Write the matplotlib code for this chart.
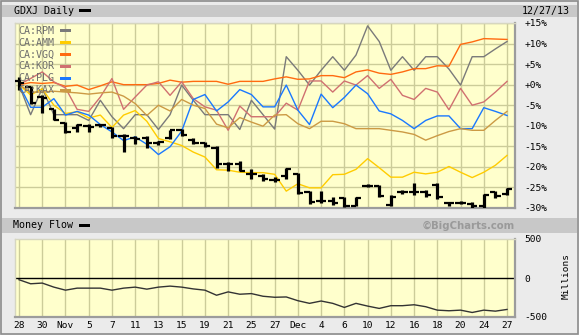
import matplotlib
matplotlib.use('Agg')
import matplotlib.pyplot as plt
from matplotlib.patches import Rectangle
from matplotlib.lines import Line2D

W, H = 579, 335

# trading days 10/28/13 .. 12/27/13, every 2nd one labelled
tick_labels = ['28', '30', 'Nov', '5', '7', '11', '13', '15', '19', '21', '25',
               '27', 'Dec', '4', '6', '10', '12', '16', '18', '20', '24', '27']

# GDXJ daily bars, % change
gdxj_open = [0.8, -0.5, -3.0, -6.0, -9.3, -10.5, -10.1, -9.9, -10.5, -12.5, -13.0,
             -13.0, -14.2, -13.0, -11.1, -13.5, -14.3, -15.4, -19.2, -19.2, -21.8,
             -22.2, -23.2, -22.3, -21.8, -26.2, -28.4, -28.2, -27.5, -29.4, -24.6,
             -24.7, -29.3, -26.2, -26.0, -26.0, -24.5, -28.9, -28.7, -29.0, -29.6,
             -26.1, -26.5]
gdxj_high = [1.9, -0.3, -2.4, -5.8, -9.1, -9.5, -9.6, -9.6, -10.3, -11.9, -12.5,
             -12.5, -13.6, -11.1, -10.9, -12.9, -13.9, -15.0, -18.8, -18.6, -20.6,
             -21.8, -22.5, -20.2, -21.5, -25.9, -25.9, -27.3, -27.3, -27.4, -24.1,
             -24.5, -26.9, -25.6, -23.9, -25.6, -23.9, -28.5, -28.4, -28.5, -26.6,
             -25.8, -25.2]
gdxj_low = [-1.3, -4.6, -7.0, -8.7, -11.7, -11.5, -11.6, -10.3, -12.9, -16.4, -14.4,
            -15.4, -14.6, -13.1, -12.6, -14.5, -15.2, -20.2, -21.0, -21.1, -23.0,
            -23.4, -23.7, -22.9, -26.6, -29.0, -28.7, -29.2, -29.7, -29.6, -25.0,
            -27.3, -29.4, -26.7, -26.9, -27.4, -27.8, -29.4, -29.1, -30.0, -30.0,
            -27.5, -26.9]
gdxj_close = [0.3, -4.4, -3.2, -8.5, -11.5, -9.9, -10.3, -9.9, -12.6, -12.4, -13.2,
              -14.1, -14.0, -11.1, -12.3, -14.2, -15.0, -19.3, -19.3, -20.9, -21.8,
              -22.9, -23.3, -20.6, -26.4, -28.6, -28.2, -28.8, -29.5, -27.6, -24.6,
              -27.1, -27.3, -26.2, -26.1, -26.8, -27.4, -28.9, -28.7, -29.4, -26.8,
              -27.2, -25.4]

# comparison symbols, % change
rpm = [0, -7.3, -0.9, -7.3, -7.3, -7.3, -8.7, -3.8, -7.8, -10.7, -7.3, -7.3, -10.9,
       -7.3, -0.1, -3.8, -7.3, -7.3, -7.3, -10.9, -3.8, -7.3, -10.8, 6.8, 3.5, -0.1,
       3.5, 6.8, 3.5, 7.2, 14.3, 10.5, 3.5, 6.8, 3.5, 6.8, 6.8, 3.8, -0.1, 6.8, 6.8,
       8.7, 10.5]
amm = [0, -2.5, -1.0, -5.0, -7.0, -6.6, -8.1, -7.4, -10.4, -7.4, -6.3, -8.9, -13.1,
       -13.9, -14.8, -16.4, -17.6, -20.7, -20.8, -21.3, -21.4, -21.4, -21.8, -25.9,
       -24.1, -25.1, -25.1, -21.9, -21.8, -20.6, -18.0, -20.2, -22.5, -22.5, -21.3,
       -21.7, -21.3, -19.9, -21.3, -22.6, -21.3, -19.6, -17.2]
vgq = [0, 0.5, 0.3, 0.5, -0.4, -0.1, -1.2, -0.3, 0.7, 0, 0, 0, 0.3, 1.1, 0.6, 0.8,
       0.8, 0.8, 0.1, 0.8, 0.8, 0.8, 1.4, 1.9, 1.3, 1.4, 2.2, 2.2, 1.7, 3.1, 3.6,
       2.8, 2.5, 3.1, 3.9, 3.9, 4.6, 4.5, 9.8, 10.4, 11.2, 11.1, 11.0]
kor = [0, 1.5, 3.1, 0.7, -0.8, -6.0, -6.5, -3.0, 1.5, -6.0, -3.0, -0.1, 0.7, -2.6,
       0.7, -3.4, -5.4, -6.2, -11.1, -5.2, -7.8, -7.8, -7.8, -4.5, -6.2, 0.9, 0.9,
       -1.8, 0.9, -0.1, 2.2, -0.9, 1.3, -2.6, -3.6, -0.9, -1.8, -6.1, -0.9, -5.0,
       -4.2, -1.8, 0.8]
plg = [0, -5.5, -5.5, -3.4, -7.4, -6.5, -7.4, -9.7, -11.5, -13.6, -12.7, -14.5,
       -17.0, -15.1, -11.3, -3.6, -2.4, -6.4, -4.2, -1.2, -2.4, -5.4, -5.4, -0.1,
       -6.2, -9.7, -2.3, -5.6, -3.1, -0.1, -2.2, -6.4, -7.1, -8.7, -10.7, -8.7,
       -7.6, -7.6, -10.7, -10.7, -5.6, -6.5, -7.5]
kax = [0, -1.8, -1.8, -1.6, -1.8, -2.0, -2.3, -2.0, -1.8, -2.8, -4.6, -7.5, -5.0,
       -6.4, -3.6, -5.0, -5.8, -9.6, -10.5, -8.0, -9.1, -10.1, -7.4, -7.3, -9.5,
       -10.7, -8.9, -8.9, -9.5, -10.7, -10.7, -10.7, -11.1, -11.5, -12.1, -13.5,
       -12.4, -11.4, -10.7, -11.1, -11.1, -8.7, -6.5]

# money flow, millions
money_flow = [-22, -74, -65, -117, -156, -130, -130, -130, -156, -130, -117, -143,
              -117, -104, -117, -140, -156, -221, -178, -208, -200, -234, -247,
              -243, -291, -325, -295, -325, -377, -325, -360, -390, -355, -355,
              -343, -368, -412, -420, -412, -442, -412, -425, -403]

series = [('CA:RPM', rpm, '#7a7a7a'), ('CA:AMM', amm, '#ffcc00'),
          ('CA:VGQ', vgq, '#ff6a10'), ('CA:KOR', kor, '#d07070'),
          ('CA:PLG', plg, '#1a78ff'), ('CA:KAX', kax, '#cc9a44')]

mono = 'DejaVu Sans Mono'
bg = '#ebebeb'
plot_bg = '#ffffcc'
grid_c = '#cccc99'


def fx(x):
    return x / W


def fy(y):
    return 1 - y / H


fig = plt.figure(figsize=(W / 100, H / 100), dpi=100, facecolor=bg)

# outer frame and title strips
fig.add_artist(Rectangle((fx(0.5), fy(333.5)), fx(577), 332.5 / H, transform=fig.transFigure,
                         facecolor='none', edgecolor='#8c8c8c', lw=1.2))
for y0, y1 in [(5, 17), (218, 233)]:
    fig.add_artist(Rectangle((fx(2), fy(y1)), fx(575), (y1 - y0) / H, transform=fig.transFigure,
                             facecolor='#c8c8c8', edgecolor='none'))

fig.text(fx(14), fy(11), 'GDXJ Daily', family=mono, fontsize=7.2, va='center', color='black')
fig.add_artist(Rectangle((fx(79), fy(11.5)), fx(12), 3 / H, transform=fig.transFigure,
                         facecolor='black', edgecolor='none'))
fig.text(fx(570), fy(11), '12/27/13', family=mono, fontsize=7.2, va='center', ha='right')

fig.text(fx(13), fy(225.5), 'Money Flow', family=mono, fontsize=7.2, va='center')
fig.add_artist(Rectangle((fx(79), fy(227)), fx(11), 3 / H, transform=fig.transFigure,
                         facecolor='black', edgecolor='none'))
fig.text(fx(515), fy(225.5), '\u00a9BigCharts.com', fontsize=7.3, fontweight='bold',
         color='#9a9a9a', va='center', ha='right')

# price panel
xmin = -4 / 11.62
xmax = xmin + 500 / 11.62
ax1 = fig.add_axes([fx(15), fy(208), fx(500), 185 / H])
ax1.set_facecolor(plot_bg)
ax1.set_xlim(xmin, xmax)
ax1.set_ylim(-30, 15)
ax1.set_xticks(range(0, 43, 2))
ax1.set_yticks(range(-30, 16, 5))
ax1.set_yticklabels([('+%d%%' % v) if v >= 0 else ('%d%%' % v) for v in range(-30, 16, 5)],
                    family=mono, fontsize=6.8)
ax1.yaxis.tick_right()
ax1.tick_params(axis='x', length=0, labelbottom=False)
ax1.tick_params(axis='y', length=0, pad=7)
ax1.grid(True, color=grid_c, lw=1)
ax1.set_axisbelow(True)

days = range(len(gdxj_close))
for name, vals, col in series:
    ax1.plot(days, vals, color=col, lw=1.0, zorder=3)

ax1.vlines(days, gdxj_low, gdxj_high, color='black', lw=2.3, zorder=4)
ax1.hlines(gdxj_open, [d - 0.45 for d in days], days, color='black', lw=1.6, zorder=4)
ax1.hlines(gdxj_close, days, [d + 0.45 for d in days], color='black', lw=1.6, zorder=4)

# legend
for k, (name, vals, col) in enumerate(series):
    yy = 30.7 + 11.9 * k
    fig.text(fx(18.5), fy(yy), name, family=mono, fontsize=7.2, color='#6e6e6e',
             va='center', zorder=1)
    fig.add_artist(Rectangle((fx(59.5), fy(yy + 1.5)), fx(11), 3 / H, transform=fig.transFigure,
                             facecolor=col, edgecolor='none'))

# money flow panel
ax2 = fig.add_axes([fx(15), fy(317), fx(500), 78 / H])
ax2.set_facecolor(plot_bg)
ax2.set_xlim(xmin, xmax)
ax2.set_ylim(-500, 500)
ax2.set_xticks(range(0, 43, 2))
ax2.set_xticklabels(tick_labels, family=mono, fontsize=6.8)
ax2.set_yticks([-500, 0, 500])
ax2.set_yticklabels(['-500', '0', '500'], family=mono, fontsize=6.8)
ax2.yaxis.tick_right()
ax2.tick_params(axis='x', length=0, pad=3)
ax2.tick_params(axis='y', length=0, pad=7)
ax2.grid(True, axis='x', color=grid_c, lw=1)
ax2.set_axisbelow(True)
ax2.axhline(0, color='black', lw=1.0, zorder=2)
ax2.plot(days, money_flow, color='#333333', lw=1.0, zorder=3)
fig.text(fx(566.5), fy(276), 'Millions', family=mono, fontsize=6.8, rotation=90,
         ha='center', va='center')

for ax in (ax1, ax2):
    for side in ('left', 'top'):
        ax.spines[side].set_color('#d6d6c0')
        ax.spines[side].set_linewidth(1)
    for side in ('right', 'bottom'):
        ax.spines[side].set_color('#9c9c9c')
        ax.spines[side].set_linewidth(1.6)

fig.savefig('out.png', dpi=100, facecolor=bg)
